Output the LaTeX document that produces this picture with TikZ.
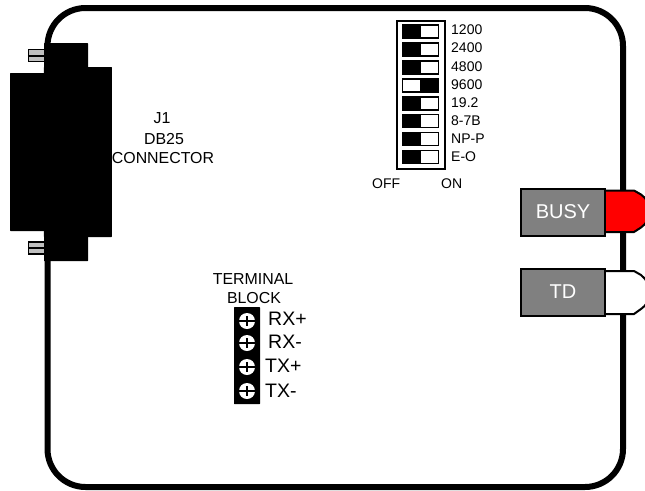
\documentclass[tikz,border=0pt]{standalone}
\usepackage{fontspec}
\setmainfont{Liberation Sans}
\usepackage{xcolor}
\colorlet{BoxGray}{black!50}
\colorlet{ScrewGray}{black!25}
\tikzstyle{blackBlock}=[fill=black,inner sep=0pt,rounded corners=0.5pt]
\tikzstyle{jackScrew}=[draw,fill=ScrewGray,line width=1.5pt,minimum width=16pt,minimum height=12pt,inner sep=0pt]
\tikzstyle{dipSwitch}=[draw,fill=white,line width=1.5pt,minimum width=36pt,minimum height=13pt,inner sep=0pt]
\tikzstyle{dipLever}=[fill=black,minimum width=19pt,minimum height=13pt,inner sep=0pt]
\tikzstyle{dipLabel}=[anchor=west,inner sep=0pt,font=\fontsize{14}{14}\selectfont]
\tikzstyle{boardLabel}=[inner sep=0pt,font=\fontsize{15.9}{15.9}\selectfont]
\tikzstyle{termLabel}=[anchor=west,inner sep=0pt,font=\fontsize{19.5}{19.5}\selectfont]
\tikzstyle{ledBox}=[draw,fill=BoxGray,text=white,line width=2pt,minimum width=84pt,minimum height=47pt,inner sep=0pt,font=\fontsize{20}{20}\selectfont]
\tikzstyle{ledLens}=[draw=black,line width=2pt]
\tikzstyle{termScrew}=[circle,fill=white,minimum size=16pt,inner sep=0pt,
    path picture={\draw[line width=1.5pt] (path picture bounding box.west) -- (path picture bounding box.east);
    \draw[line width=1.5pt] ([yshift=-3pt]path picture bounding box.north) -- ([yshift=3pt]path picture bounding box.south);}]

\begin{document}
\begin{tikzpicture}[x=1pt,y=-1pt]

        \clip (0,0) rectangle (645,490);

        % Board
        \draw[line width=6pt,rounded corners=38pt] (47.5,8) rectangle (623,487);

        % DB25 connector
        \node[blackBlock,minimum width=44pt,minimum height=218pt] (jackBody) at (66,152) {};
        \node[blackBlock,anchor=east,minimum width=68pt,minimum height=170pt] (jackRight) at (112,152) {};
        \node[blackBlock,anchor=west,minimum width=68pt,minimum height=158pt] (jackLeft) at (10,152) {};
        \node[jackScrew] (screw0) at (36.5,55.5) {};
        \node[jackScrew] (screw1) at (36.5,248) {};
        \draw[line width=2pt] (screw0.west) -- (screw0.east);
        \draw[line width=2pt] (screw1.west) -- (screw1.east);

        \node[boardLabel] (j1) at (162,118) {J1};
        \node[boardLabel] (db25) at (164,139) {DB25};
        \node[boardLabel] (conn) at (163,158) {CONNECTOR};

        % DIP switches
        \node[draw,line width=2pt,minimum width=48pt,minimum height=148pt,inner sep=0pt] (dipFrame) at (420.5,94.5) {};
        \node[dipSwitch] (sw0) at (420.5,31.5) {};
        \node[dipSwitch] (sw1) at (420.5,49.5) {};
        \node[dipSwitch] (sw2) at (420.5,67.5) {};
        \node[dipSwitch] (sw3) at (420.5,85.5) {};
        \node[dipSwitch] (sw4) at (420.5,103.5) {};
        \node[dipSwitch] (sw5) at (420.5,121) {};
        \node[dipSwitch] (sw6) at (420.5,139) {};
        \node[dipSwitch] (sw7) at (420.5,157) {};

        \node[dipLever,anchor=west] (lever0) at (sw0.west) {};
        \node[dipLever,anchor=west] (lever1) at (sw1.west) {};
        \node[dipLever,anchor=west] (lever2) at (sw2.west) {};
        \node[dipLever,anchor=east] (lever3) at (sw3.east) {};
        \node[dipLever,anchor=west] (lever4) at (sw4.west) {};
        \node[dipLever,anchor=west] (lever5) at (sw5.west) {};
        \node[dipLever,anchor=west] (lever6) at (sw6.west) {};
        \node[dipLever,anchor=west] (lever7) at (sw7.west) {};

        \node[dipLabel] (rate0) at (451,30) {1200};
        \node[dipLabel] (rate1) at (451,48) {2400};
        \node[dipLabel] (rate2) at (451,67) {4800};
        \node[dipLabel] (rate3) at (451,85) {9600};
        \node[dipLabel] (rate4) at (451,103) {19.2};
        \node[dipLabel] (rate5) at (451,121) {8-7B};
        \node[dipLabel] (rate6) at (451,139) {NP-P};
        \node[dipLabel] (rate7) at (451,157) {E-O};
        \node[dipLabel] (off) at (372,184) {OFF};
        \node[dipLabel] (on) at (441,184) {ON};

        % LEDs
        \draw[ledLens,fill=red] (600,190.5) -- (634,190.5) -- (641,194.5) .. controls (646,198) and (650,204) .. (650,211) .. controls (650,218) and (646,224) .. (641,227.5) -- (634,232) -- (600,232) -- cycle;
        \draw[ledLens,fill=white] (600,271) -- (634,271) -- (641,275) .. controls (646,279) and (650,285) .. (650,292) .. controls (650,299) and (646,306) .. (641,309) -- (634,314) -- (600,314) -- cycle;
        \node[ledBox] (busy) at (563,212) {BUSY};
        \node[ledBox] (td) at (563,292) {TD};

        % Terminal block
        \node[boardLabel] (term) at (253,279) {TERMINAL};
        \node[boardLabel] (block) at (254,298) {BLOCK};
        \node[blackBlock,minimum width=26pt,minimum height=97pt] (termBody) at (247,355.5) {};
        \node[termScrew] (t0) at (247,321) {};
        \node[termScrew] (t1) at (247,343) {};
        \node[termScrew] (t2) at (247,367) {};
        \node[termScrew] (t3) at (247,391) {};
        \node[termLabel] (rxp) at (268,319) {RX+};
        \node[termLabel] (rxm) at (268,342) {RX-};
        \node[termLabel] (txp) at (265,366) {TX+};
        \node[termLabel] (txm) at (265,391) {TX-};

\end{tikzpicture}
\end{document}
